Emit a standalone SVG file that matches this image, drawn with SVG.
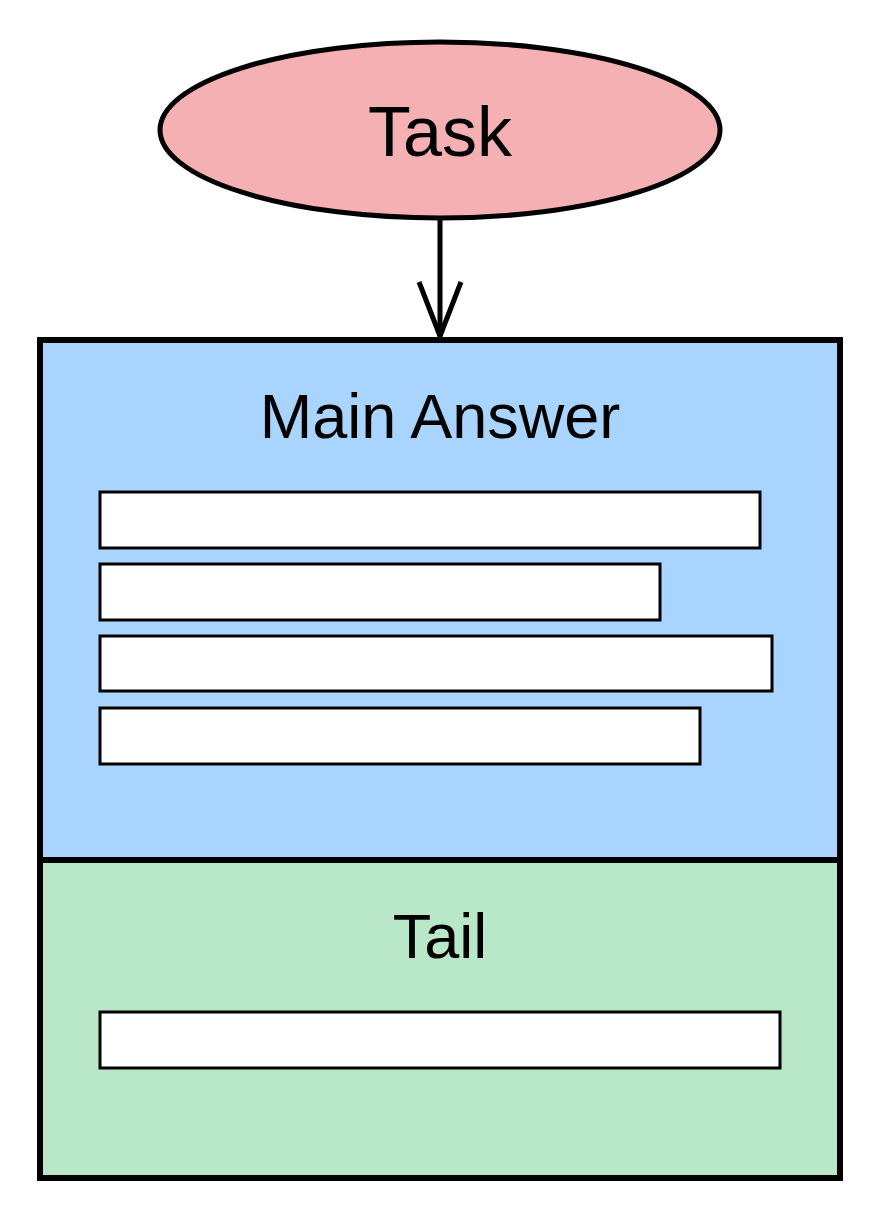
<svg xmlns="http://www.w3.org/2000/svg" width="880" height="1220" viewBox="0 0 880 1220">
<style>
.t{font-family:"Liberation Sans",Arial,sans-serif;text-anchor:middle;fill:#000}
.bar{fill:#fff;stroke:#000;stroke-width:3}
.box{stroke:#000;stroke-width:6}
</style>
<rect width="880" height="1220" fill="#fff"/>
<g id="connectors">
<line x1="440" y1="218" x2="440" y2="336" stroke="#000" stroke-width="5"/>
<polyline points="419,282 440,336 461,282" fill="none" stroke="#000" stroke-width="5" stroke-linejoin="miter"/>
</g>
<g id="task">
<ellipse cx="440" cy="130" rx="280" ry="88" fill="#f4b0b2" stroke="#000" stroke-width="5"/>
<text class="t" x="440" y="156" font-size="70">Task</text>
</g>
<g id="main-answer">
<rect class="box" x="40" y="340" width="800" height="520" fill="#a8d4fe"/>
<text class="t" x="440" y="438" font-size="63">Main Answer</text>
<rect class="bar" x="100" y="492" width="660" height="56"/>
<rect class="bar" x="100" y="564" width="560" height="56"/>
<rect class="bar" x="100" y="636" width="672" height="55"/>
<rect class="bar" x="100" y="708" width="600" height="56"/>
</g>
<g id="tail">
<rect class="box" x="40" y="860" width="800" height="318" fill="#b8e8c8"/>
<text class="t" x="440" y="958" font-size="63">Tail</text>
<rect class="bar" x="100" y="1012" width="680" height="56"/>
</g>
</svg>
